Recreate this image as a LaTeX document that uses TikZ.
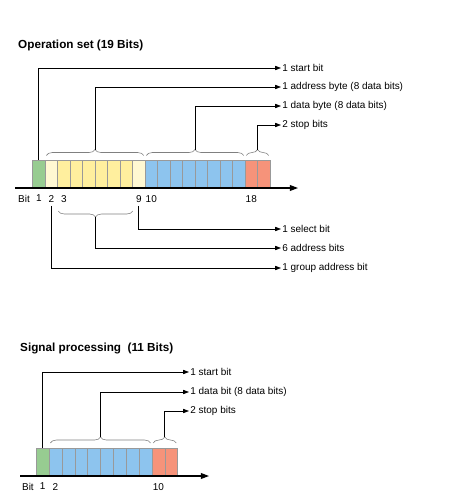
\documentclass[tikz,border=0pt]{standalone}
\usepackage{fontspec}
\setmainfont{Liberation Sans}
\usetikzlibrary{arrows.meta,positioning,calc,decorations.pathreplacing}

\definecolor{bitgreen}{HTML}{97CC91}
\definecolor{bitpale}{HTML}{FFF8D2}
\definecolor{bityellow}{HTML}{FFEF9E}
\definecolor{bitblue}{HTML}{8DC4EE}
\definecolor{bitred}{HTML}{F6937A}

\begin{document}
\begin{tikzpicture}[
    x=0.03cm, y=-0.03cm,
    cell/.style={rectangle, draw=black!40, inner sep=0pt, minimum height=0.81cm, anchor=south west},
    title/.style={font=\fontsize{10}{12}\selectfont\bfseries, anchor=west, inner sep=0pt},
    field/.style={font=\fontsize{8.5}{10}\selectfont, anchor=west, inner sep=1pt},
    num/.style={font=\fontsize{8.5}{10}\selectfont, inner sep=1pt},
    arrow/.style={-{Triangle[length=5pt,width=3.6pt]}, line width=0.6pt},
    axis/.style={-{Triangle[length=7pt,width=5pt]}, line width=1pt},
    group/.style={decorate, decoration={brace, amplitude=0.18cm}, draw=black!50, line width=0.5pt},
    tipup/.style={midway, coordinate, yshift=0.18cm},
    tipdown/.style={midway, coordinate, yshift=-0.18cm}
]
\useasboundingbox (0,0) rectangle (471,504);

% Operation set
\node[title] (opTitle) at (18,45) {Operation set (19 Bits)};

% Bits
\foreach \i/\col in {1/bitgreen, 2/bitpale, 3/bityellow, 4/bityellow, 5/bityellow,
    6/bityellow, 7/bityellow, 8/bityellow, 9/bitpale, 10/bitblue, 11/bitblue,
    12/bitblue, 13/bitblue, 14/bitblue, 15/bitblue, 16/bitblue, 17/bitblue,
    18/bitred, 19/bitred}
  \node[cell, minimum width=0.375cm, fill=\col] (a\i) at ({32.3+(\i-1)*12.5},187) {};

\coordinate (opAxisL) at (15,188);
\coordinate (opAxisR) at (298,188);
\draw[axis] (opAxisL) -- (opAxisR);

% Bit numbers
\node[num, below=0.2cm of a1.south] (n1) {1};
\node[num, left=0.1cm of n1] (nBit) {Bit};
\node[num, below=0.2cm of a2.south] (n2) {2};
\node[num, below=0.2cm of a3.south] (n3) {3};
\node[num, below=0.2cm of a9.south] (n9) {9};
\node[num, below=0.2cm of a10.south] (n10) {10};
\node[num, below=0.2cm of a18.south] (n18) {18};

% Fields
\node[field] (lStart) at (281,68) {1 start bit};
\node[field] (lAddr) at (281,87) {1 address byte (8 data bits)};
\node[field] (lData) at (281,106) {1 data byte (8 data bits)};
\node[field] (lStop) at (281,125) {2 stop bits};
\node[field] (lSelect) at (281,229) {1 select bit};
\node[field] (lSix) at (281,248) {6 address bits};
\node[field] (lGroup) at (281,268) {1 group address bit};

% Braces
\draw[group] ($(a2.north west)+(1.5,-4)$) -- ($(a9.north east)+(-1.5,-4)$) node[tipup] (addrTip) {};
\draw[group] ($(a10.north west)+(1.5,-4)$) -- ($(a17.north east)+(-1.5,-4)$) node[tipup] (dataTip) {};
\draw[group] ($(a18.north west)+(1.5,-4)$) -- ($(a19.north east)+(-1.5,-4)$) node[tipup] (stopTip) {};
\draw[group] ($(a8.south east)+(0,24)$) -- ($(a3.south west)+(1,24)$) node[tipdown] (sixTip) {};

% Connectors
\draw[arrow] (a1.north) |- (lStart.west);
\draw[arrow] (addrTip) |- (lAddr.west);
\draw[arrow] (dataTip) |- (lData.west);
\draw[arrow] (stopTip) |- (lStop.west);
\draw[arrow] ([yshift=-2pt]n9.south) |- (lSelect.west);
\draw[arrow] (sixTip) |- (lSix.west);
\draw[arrow] ([yshift=-2pt]n2.south) |- (lGroup.west);

% Signal processing
\node[title] (spTitle) at (20,348) {Signal processing\ \ (11 Bits)};

\foreach \i/\col in {1/bitgreen, 2/bitblue, 3/bitblue, 4/bitblue, 5/bitblue,
    6/bitblue, 7/bitblue, 8/bitblue, 9/bitblue, 10/bitred, 11/bitred}
  \node[cell, minimum width=0.3855cm, fill=\col] (b\i) at ({36+(\i-1)*12.85},475) {};

\coordinate (spAxisL) at (20,476);
\coordinate (spAxisR) at (209,476);
\draw[axis] (spAxisL) -- (spAxisR);

\node[num, below=0.2cm of b1.south] (m1) {1};
\node[num, left=0.1cm of m1] (mBit) {Bit};
\node[num, below=0.2cm of b2.south] (m2) {2};
\node[num, below=0.2cm of b10.south] (m10) {10};

\node[field] (sStart) at (189,372) {1 start bit};
\node[field] (sData) at (189,392) {1 data bit (8 data bits)};
\node[field] (sStop) at (189,411) {2 stop bits};

\draw[group] ($(b2.north west)+(1.5,-4.5)$) -- ($(b9.north east)+(-1.5,-4.5)$) node[tipup] (sDataTip) {};
\draw[group] ($(b10.north west)+(1.5,-4.5)$) -- ($(b11.north east)+(-1.5,-4.5)$) node[tipup] (sStopTip) {};

\draw[arrow] (b1.north) |- (sStart.west);
\draw[arrow] (sDataTip) |- (sData.west);
\draw[arrow] (sStopTip) |- (sStop.west);

\end{tikzpicture}
\end{document}
